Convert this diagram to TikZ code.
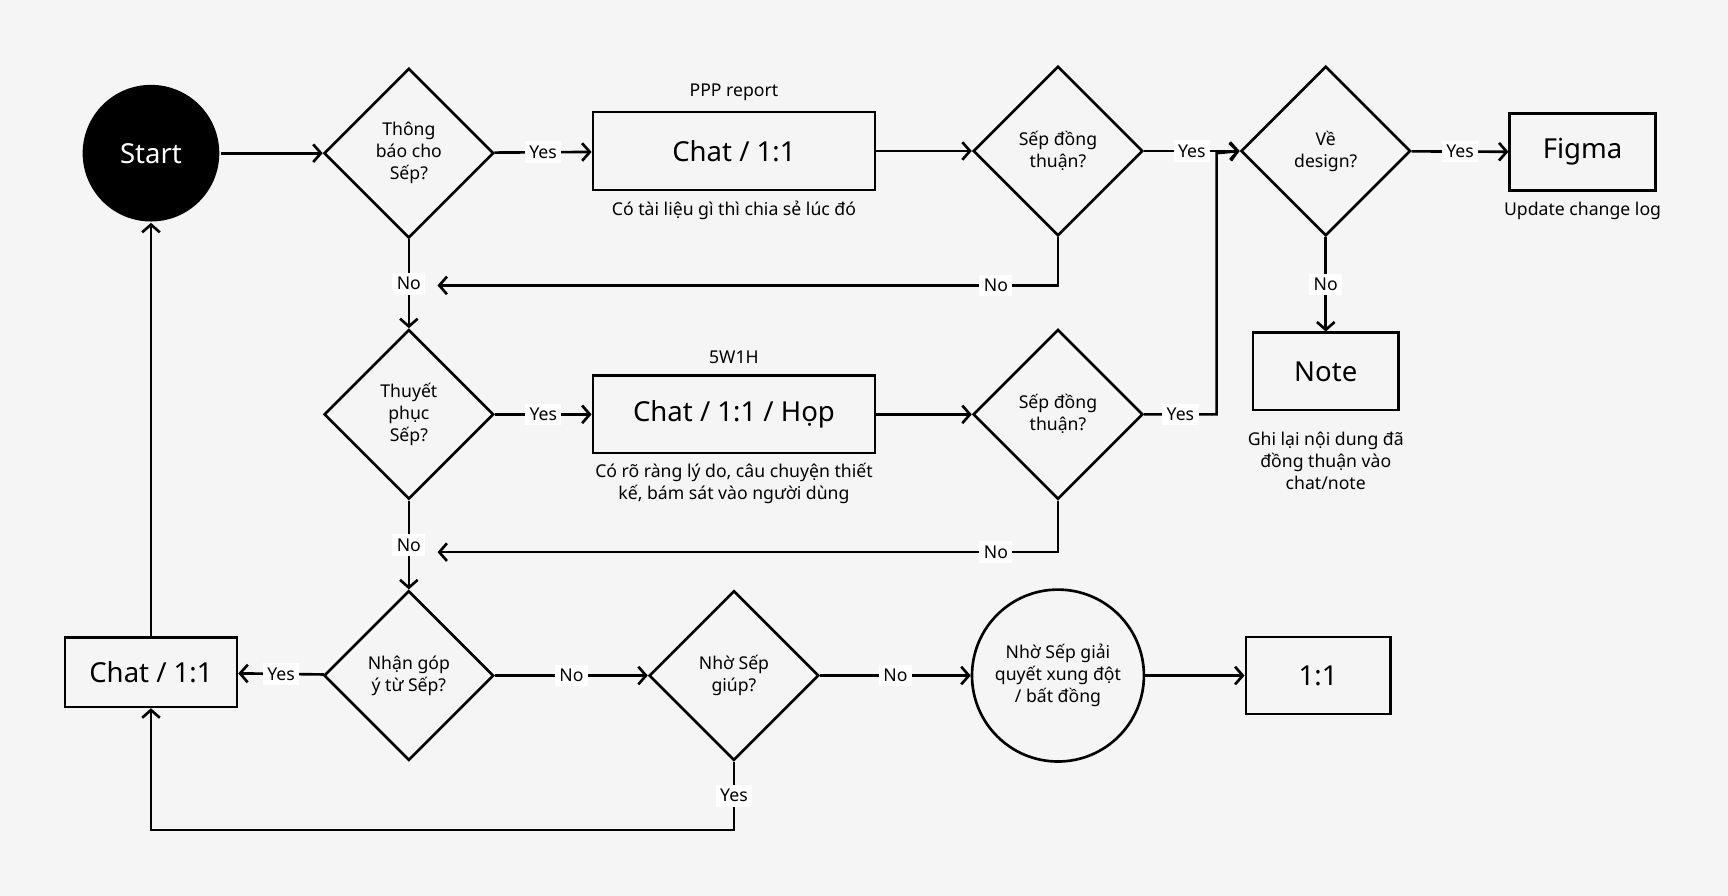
\documentclass[tikz,border=0pt]{standalone}
\usepackage{fontspec}
\setmainfont{Noto Sans}
\usetikzlibrary{shapes.geometric,arrows.meta}
\definecolor{bg}{HTML}{F5F5F5}
\begin{document}
\begin{tikzpicture}[x=1pt,y=-1pt,line width=2.4pt,
  every node/.style={font=\fontsize{16}{20}\selectfont},
  dia/.style={draw,diamond,minimum width=154pt,minimum height=154pt,inner sep=0pt,align=center,fill=bg},
  box/.style={draw,fill=bg,font=\fontsize{25}{30}\selectfont\bfseries,inner sep=0pt},
  lab/.style={fill=white,font=\fontsize{16}{20}\selectfont\bfseries,inner sep=4pt},
  txt/.style={align=center},
  arr/.style={-{Straight Barb[length=7pt,width=16pt]}}]
\fill[bg] (0,0) rectangle (1568,813);
\useasboundingbox (0,0) rectangle (1568,813);
\node[circle,fill=black,minimum size=124pt,text=white,font=\fontsize{25}{30}\selectfont\bfseries] (start) at (137,139) {Start};
\node[dia] (d1) at (371,139) {Thông\\báo cho\\Sếp?};
\node[box,minimum width=256pt,minimum height=71pt] (c1) at (666,137) {Chat / 1:1};
\node[txt] (t1) at (666,84) {PPP report};
\node[txt] (t2) at (666,191) {Có tài liệu gì thì chia sẻ lúc đó};
\node[dia] (d2) at (960,137) {Sếp đồng\\thuận?};
\node[dia] (d3) at (1203,137) {Về\\design?};
\node[box,minimum width=132pt,minimum height=70pt] (fig) at (1436,138) {Figma};
\node[txt] (t3) at (1436,191) {Update change log};
\node[box,minimum width=132pt,minimum height=70pt] (note) at (1203,337) {Note};
\node[txt] (t4) at (1203,418) {Ghi lại nội dung đã\\đồng thuận vào\\chat/note};
\node[dia] (d4) at (371,376) {Thuyết\\phục\\Sếp?};
\node[box,minimum width=256pt,minimum height=70pt] (c2) at (666,376) {Chat / 1:1 / Họp};
\node[txt] (t5) at (666,324) {5W1H};
\node[txt] (t6) at (666,439) {Có rõ ràng lý do, câu chuyện thiết\\kế, bám sát vào người dùng};
\node[dia] (d5) at (960,376) {Sếp đồng\\thuận?};
\node[dia] (d6) at (371,613) {Nhận góp\\ý từ Sếp?};
\node[box,minimum width=156pt,minimum height=63pt] (c3) at (137,610) {Chat / 1:1};
\node[dia] (d7) at (666,613) {Nhờ Sếp\\giúp?};
\node[circle,draw,fill=bg,minimum size=156pt,inner sep=0pt,align=center] (ci) at (960,613) {Nhờ Sếp giải\\quyết xung đột\\/ bất đồng};
\node[box,minimum width=131pt,minimum height=70pt] (oo) at (1196,613) {1:1};
\coordinate (k1) at (960,259); \coordinate (k2) at (397,259);
\coordinate (k3) at (1104,376); \coordinate (k4) at (1104,139);
\coordinate (k5) at (960,501); \coordinate (k6) at (397,501);
\coordinate (k7) at (666,753); \coordinate (k8) at (137,753);
\draw[arr] (start) -- (d1);
\draw[arr] (d1) -- node[lab]{Yes} (c1);
\draw[arr] (c1) -- (d2);
\draw[arr] (d2) -- node[lab]{Yes} (d3);
\draw[arr] (d3) -- node[lab]{Yes} (fig);
\draw[arr] (d3) -- node[lab]{No} (note);
\draw[arr] (d2.south) -- (k1) -- node[lab,pos=0.1]{No} (k2);
\draw[arr] (d1) -- node[lab]{No} (d4);
\draw[arr] (d4) -- node[lab]{Yes} (c2);
\draw[arr] (c2) -- (d5);
\draw[arr] (d5.east) -- node[lab]{Yes} (k3) -- (k4) -- (d3.west);
\draw[arr] (d5.south) -- (k5) -- node[lab,pos=0.1]{No} (k6);
\draw[arr] (d4) -- node[lab]{No} (d6);
\draw[arr] (d6) -- node[lab]{Yes} (c3);
\draw[arr] (c3) -- (start);
\draw[arr] (d6) -- node[lab]{No} (d7);
\draw[arr] (d7) -- node[lab]{No} (ci);
\draw[arr] (ci) -- (oo);
\draw[arr] (d7.south) -- node[lab]{Yes} (k7) -- (k8) -- (c3.south);
\end{tikzpicture}
\end{document}
